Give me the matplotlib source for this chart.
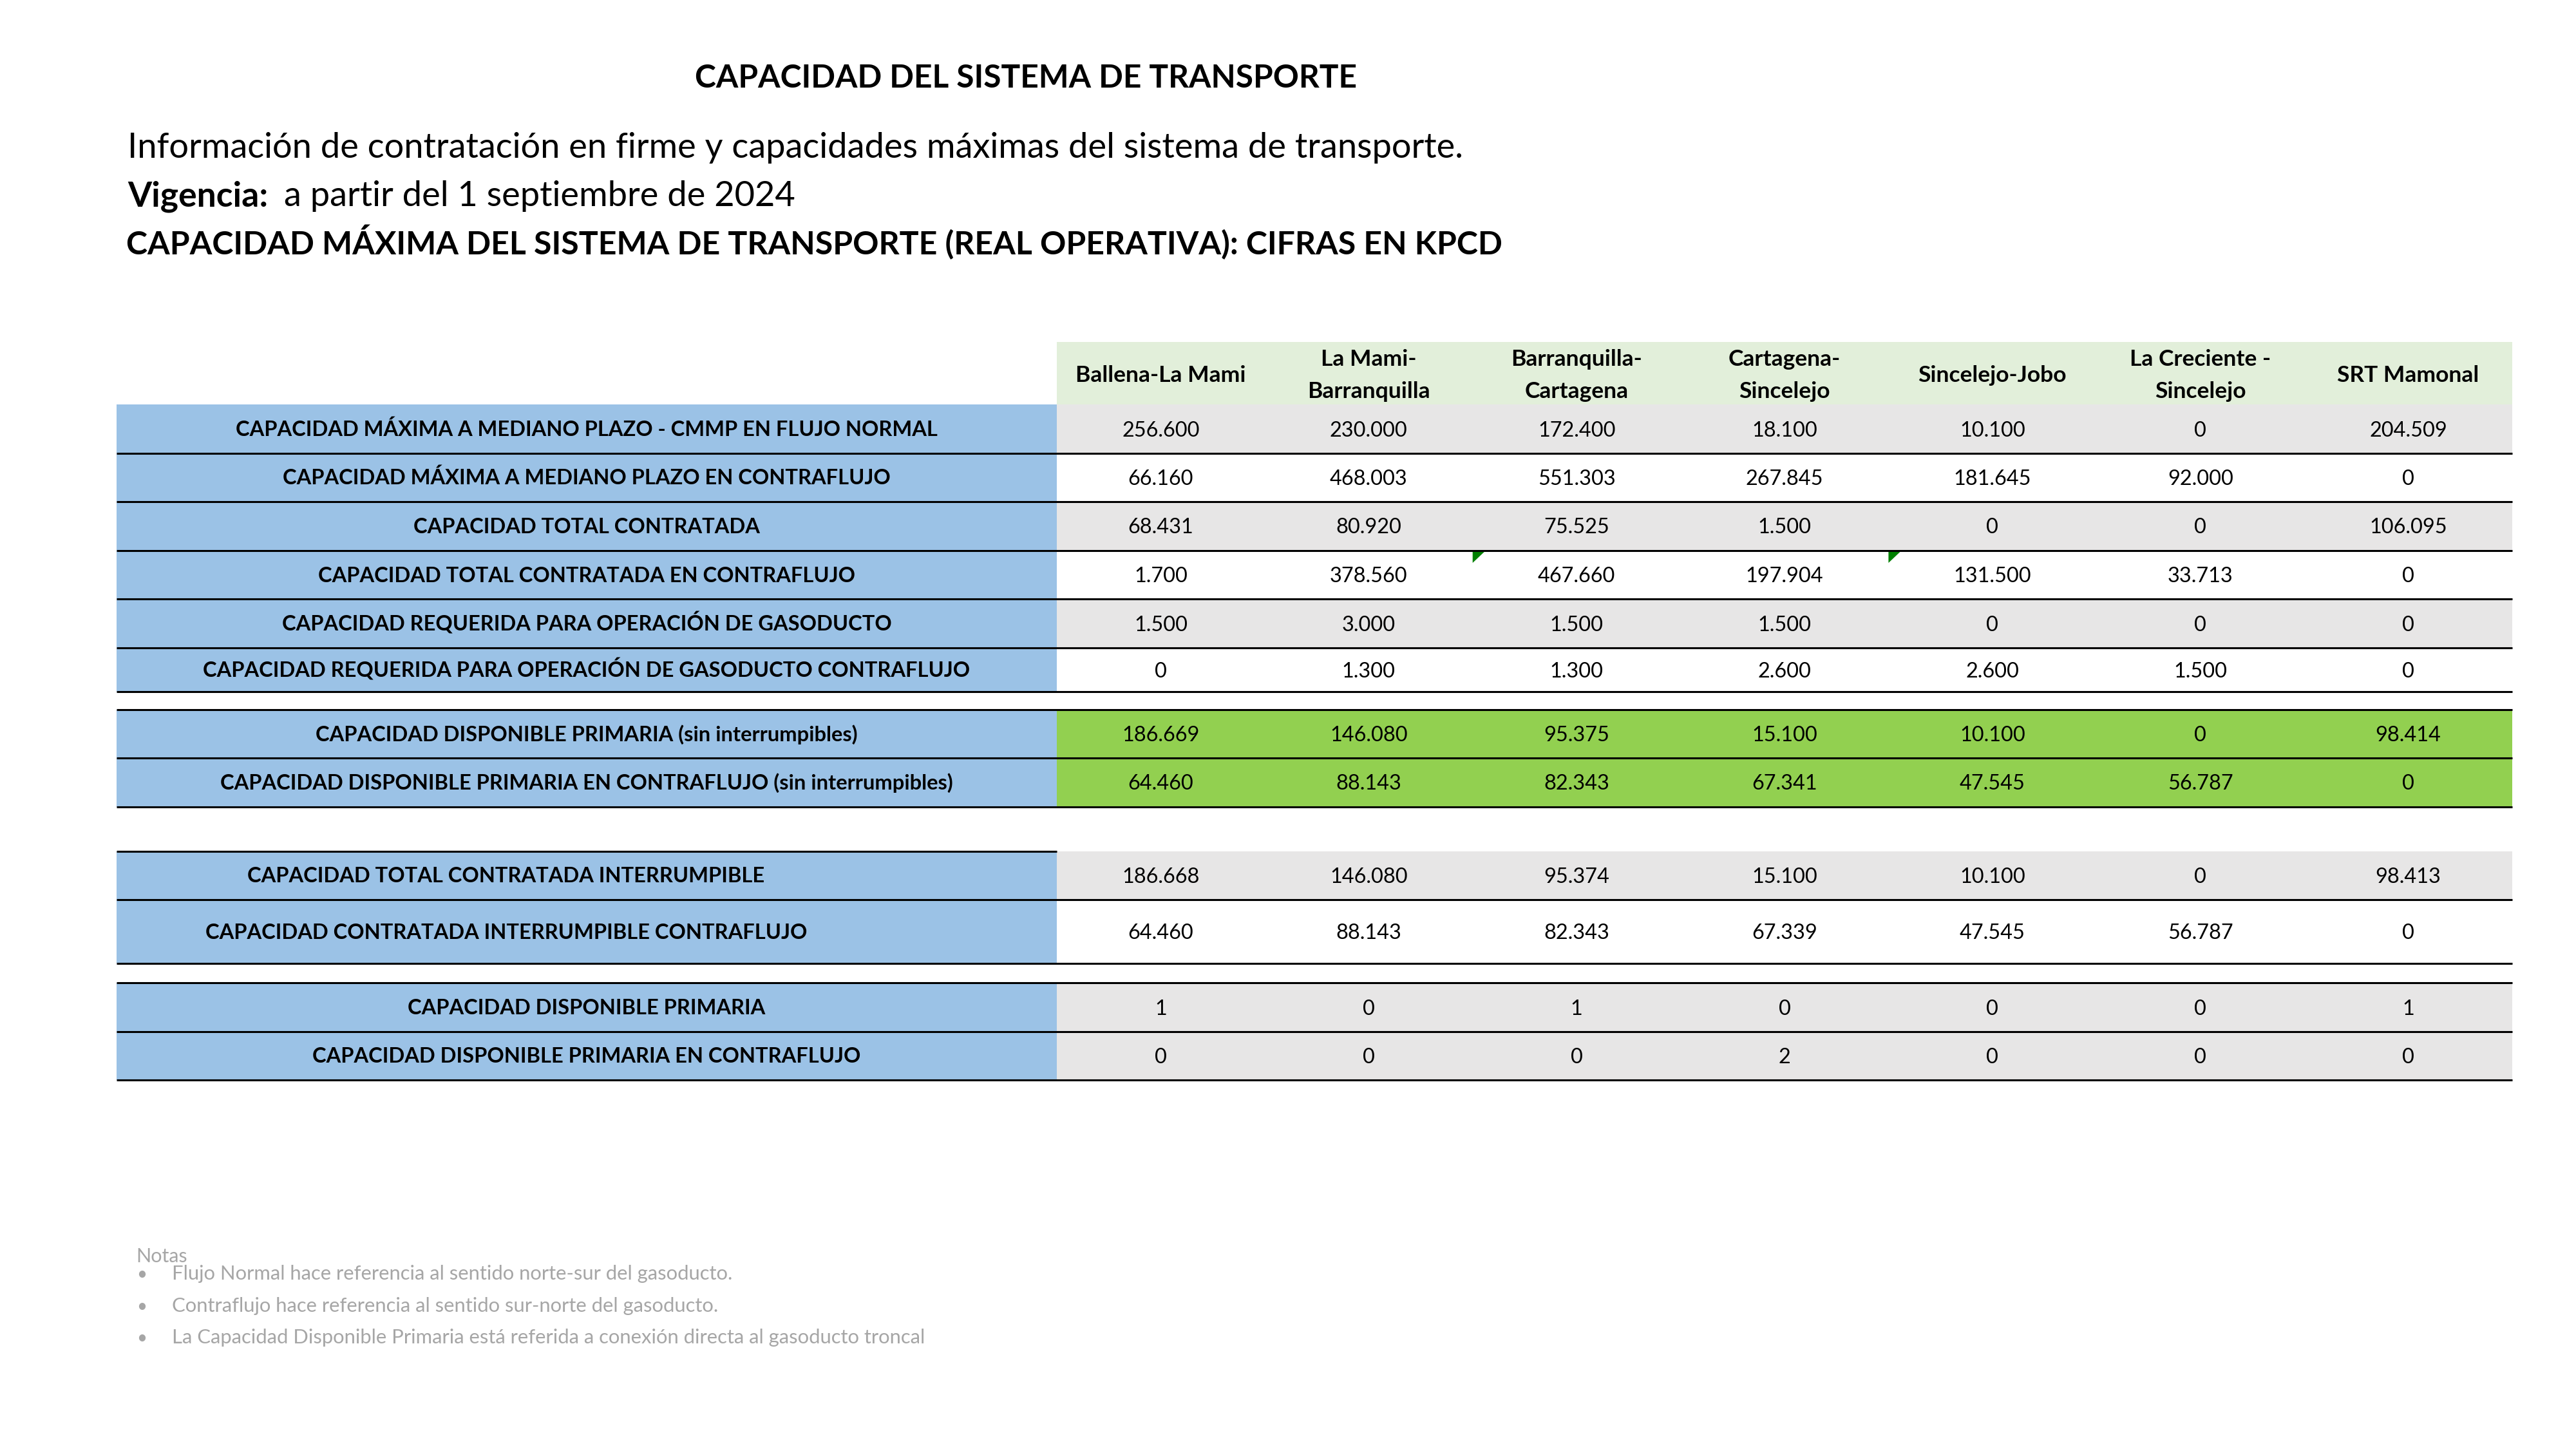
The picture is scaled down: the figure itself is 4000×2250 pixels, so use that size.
import matplotlib
matplotlib.use("Agg")
import matplotlib.pyplot as plt  # plotting
from matplotlib.patches import Rectangle, Polygon

plt.rcParams['font.family'] = ['Lato', 'DejaVu Sans']

# ---- datos de la tabla ----
tramos = ["Ballena-La Mami", "La Mami-\nBarranquilla", "Barranquilla-\nCartagena",
          "Cartagena-\nSincelejo", "Sincelejo-Jobo", "La Creciente -\nSincelejo", "SRT Mamonal"]

conceptos = [
    "CAPACIDAD MÁXIMA A MEDIANO PLAZO - CMMP EN FLUJO NORMAL",
    "CAPACIDAD MÁXIMA A MEDIANO PLAZO EN CONTRAFLUJO",
    "CAPACIDAD TOTAL CONTRATADA",
    "CAPACIDAD TOTAL CONTRATADA EN CONTRAFLUJO",
    "CAPACIDAD REQUERIDA PARA OPERACIÓN DE GASODUCTO",
    "CAPACIDAD REQUERIDA PARA OPERACIÓN DE GASODUCTO CONTRAFLUJO",
    "CAPACIDAD DISPONIBLE PRIMARIA (sin interrumpibles)",
    "CAPACIDAD DISPONIBLE PRIMARIA EN CONTRAFLUJO (sin interrumpibles)",
    "CAPACIDAD TOTAL CONTRATADA INTERRUMPIBLE",
    "CAPACIDAD CONTRATADA INTERRUMPIBLE CONTRAFLUJO",
    "CAPACIDAD DISPONIBLE PRIMARIA",
    "CAPACIDAD DISPONIBLE PRIMARIA EN CONTRAFLUJO",
]

cmmp_normal = [256600, 230000, 172400, 18100, 10100, 0, 204509]
cmmp_contra = [66160, 468003, 551303, 267845, 181645, 92000, 0]
contratada = [68431, 80920, 75525, 1500, 0, 0, 106095]
contratada_contra = [1700, 378560, 467660, 197904, 131500, 33713, 0]
requerida = [1500, 3000, 1500, 1500, 0, 0, 0]
requerida_contra = [0, 1300, 1300, 2600, 2600, 1500, 0]
disponible = [186669, 146080, 95375, 15100, 10100, 0, 98414]
disponible_contra = [64460, 88143, 82343, 67341, 47545, 56787, 0]
interrumpible = [186668, 146080, 95374, 15100, 10100, 0, 98413]
interrumpible_contra = [64460, 88143, 82343, 67339, 47545, 56787, 0]
disp_primaria = [1, 0, 1, 0, 0, 0, 1]
disp_primaria_contra = [0, 0, 0, 2, 0, 0, 0]

valores = [cmmp_normal, cmmp_contra, contratada, contratada_contra, requerida,
           requerida_contra, disponible, disponible_contra, interrumpible,
           interrumpible_contra, disp_primaria, disp_primaria_contra]

notas = ["Flujo Normal hace referencia al sentido norte-sur del gasoducto.",
         "Contraflujo hace referencia al sentido sur-norte del gasoducto.",
         "La Capacidad Disponible Primaria está referida a conexión directa al gasoducto troncal"]

# ---- layout (pixeles) ----
AZUL = '#9BC2E6'
VERDE_CLARO = '#E2EFDA'
GRIS = '#E7E6E6'
VERDE = '#92D050'

x_izq, x_col, x_der = 181, 1641, 3901
ancho_col = (x_der - x_col) / len(tramos)
# (arriba, abajo) de cada fila
filas_y = [(628, 704), (704, 779), (779, 855), (855, 930), (930, 1006), (1006, 1074),
           (1102, 1177), (1177, 1253),
           (1322, 1397), (1397, 1496),
           (1526, 1602), (1602, 1677)]
fondos = [GRIS, 'white', GRIS, 'white', GRIS, 'white', VERDE, VERDE, GRIS, 'white', GRIS, GRIS]
centro_etiqueta = [911] * 8 + [786, 786] + [911, 911]

fig = plt.figure(figsize=(40, 22.5), dpi=100)
ax = fig.add_axes([0, 0, 1, 1])
ax.set_xlim(0, 4000)
ax.set_ylim(2250, 0)
ax.axis('off')

# titulos
ax.text(1593, 136, "CAPACIDAD DEL SISTEMA DE TRANSPORTE", ha='center', va='baseline',
        fontsize=35.7, fontweight='bold')
ax.text(198, 245, "Información de contratación en firme y capacidades máximas del sistema de transporte.",
        ha='left', va='baseline', fontsize=39)
ax.text(198, 320, "Vigencia:", ha='left', va='baseline', fontsize=38.5, fontweight='bold')
ax.text(441, 320, "a partir del 1 septiembre de 2024", ha='left', va='baseline', fontsize=39)
ax.text(196, 395, "CAPACIDAD MÁXIMA DEL SISTEMA DE TRANSPORTE (REAL OPERATIVA): CIFRAS EN KPCD",
        ha='left', va='baseline', fontsize=36, fontweight='bold')

# encabezado
ax.add_patch(Rectangle((x_col, 531), x_der - x_col, 628 - 531, color=VERDE_CLARO, lw=0))
for j, t in enumerate(tramos):
    xc = x_col + ancho_col * (j + 0.5)
    lineas = t.split("\n")
    for k, ln in enumerate(lineas):
        yb = 593 + (k - (len(lineas) - 1) / 2) * 49
        ax.text(xc, yb, ln, ha='center', va='baseline', fontsize=25.5, fontweight='bold')

# filas
for i, (y0, y1) in enumerate(filas_y):
    ax.add_patch(Rectangle((x_izq, y0), x_col - x_izq, y1 - y0, color=AZUL, lw=0))
    ax.add_patch(Rectangle((x_col, y0), x_der - x_col, y1 - y0, color=fondos[i], lw=0))
    yc = (y0 + y1) / 2
    ax.text(centro_etiqueta[i], yc + 11, conceptos[i], ha='center', va='baseline',
            fontsize=23.5, fontweight='bold')
    for j, v in enumerate(valores[i]):
        xc = x_col + ancho_col * (j + 0.5)
        ax.text(xc, yc + 11.5, f"{v:,}".replace(",", "."), ha='center', va='baseline', fontsize=23.4)
    ax.plot([x_izq, x_der], [y1, y1], color='black', lw=2.2, solid_capstyle='butt')

# lineas superiores de cada bloque
ax.plot([x_izq, x_der], [1102, 1102], color='black', lw=2.2, solid_capstyle='butt')
ax.plot([x_izq, x_col], [1322, 1322], color='black', lw=2.2, solid_capstyle='butt')
ax.plot([x_izq, x_der], [1526, 1526], color='black', lw=2.2, solid_capstyle='butt')

# indicadores verdes de celda
for j in [2, 4]:
    x0 = x_col + ancho_col * j
    ax.add_patch(Polygon([(x0, 857), (x0 + 18, 857), (x0, 874)], closed=True, color='#008000', lw=0))

# notas
ax.text(211, 1960, "Notas", ha='left', va='baseline', fontsize=22, color='#A6A6A6')
for k, n in enumerate(notas):
    yb = 1987 + k * 49.5
    ax.text(212, yb, "•", ha='left', va='baseline', fontsize=20, color='#A6A6A6')
    ax.text(267, yb, n, ha='left', va='baseline', fontsize=22.3, color='#A6A6A6')

fig.savefig("out.png", dpi=100)
